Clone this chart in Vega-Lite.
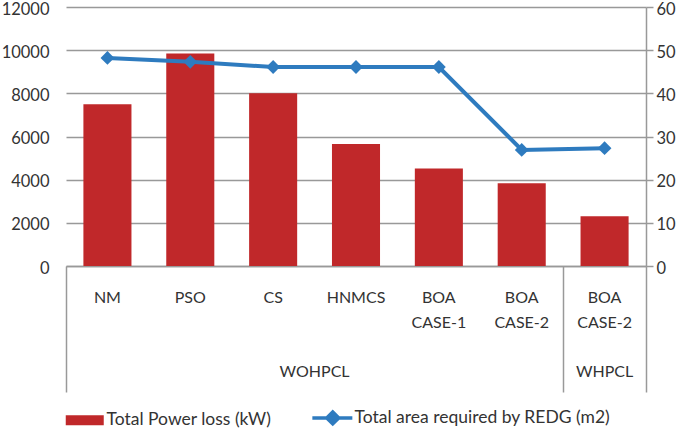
{
  "$schema": "https://vega.github.io/schema/vega-lite/v6.json",
  "width": 580,
  "height": 259,
  "autosize": "none",
  "padding": {"left": 66, "top": 7, "right": 39, "bottom": 166},
  "background": "white",
  "config": {"view": {"stroke": null}, "font": "Lato"},
  "data": {
    "values": [
      {"case": "WOHPCL|NM", "loss": 7500, "area": 48.2},
      {"case": "WOHPCL|PSO", "loss": 9850, "area": 47.3},
      {"case": "WOHPCL|CS", "loss": 8000, "area": 46.1},
      {"case": "WOHPCL|HNMCS", "loss": 5650, "area": 46.1},
      {"case": "WOHPCL|BOA CASE-1", "loss": 4520, "area": 46.1},
      {"case": "WOHPCL|BOA CASE-2", "loss": 3830, "area": 26.9},
      {"case": "WHPCL|BOA CASE-2", "loss": 2300, "area": 27.3}
    ]
  },
  "resolve": {"scale": {"y": "independent"}, "axis": {"x": "independent"}},
  "layer": [
    {
      "mark": {"type": "bar", "width": {"band": 0.58}, "color": "#C0282A"},
      "encoding": {
        "x": {
          "field": "case", "type": "nominal", "sort": null,
          "scale": {"paddingInner": 0, "paddingOuter": 0},
          "axis": {
            "title": null, "orient": "bottom", "bandPosition": 0, "labelAngle": 0,
            "labelExpr": "split(split(datum.value, '|')[1], ' ')",
            "labelFont": "Lato", "labelFontSize": 16, "labelColor": "#333",
            "labelLineHeight": 25, "labelPadding": -103, "labelOverlap": false,
            "ticks": true, "tickSize": 126, "tickColor": "#999", "tickWidth": 1.5,
            "tickOpacity": {"condition": {"test": "datum.value == 'WOHPCL|NM' || datum.value == 'WHPCL|BOA CASE-2'", "value": 1}, "value": 0},
            "domain": true, "domainColor": "#999", "domainWidth": 1.5,
            "grid": false
          }
        },
        "y": {
          "field": "loss", "type": "quantitative",
          "scale": {"domain": [0, 12000]},
          "axis": {
            "title": null, "orient": "left", "values": [0, 2000, 4000, 6000, 8000, 10000, 12000],
            "format": "d", "grid": true, "gridColor": "#999", "gridWidth": 1.5,
            "domain": false, "ticks": false, "labelPadding": 17, "labelOffset": 2,
            "labelFont": "Lato", "labelFontSize": 16.5, "labelColor": "#333"
          }
        },
        "color": {
          "datum": "Total Power loss (kW)",
          "scale": {"domain": ["Total Power loss (kW)", "Total area required by REDG (m2)"], "range": ["#C0282A", "#2E7BBF"]},
          "legend": {
            "orient": "none", "legendX": 10, "legendY": 402, "direction": "horizontal", "title": null,
            "symbolSize": 1600, "labelFont": "Lato", "labelFontSize": 17.5, "labelColor": "#333", "labelLimit": 0,
            "columnPadding": 33, "labelOffset": 13, "padding": 0,
            "encode": {"symbols": {"update": {
              "shape": {"signal": "datum.value == 'Total Power loss (kW)' ? 'M-0.95,-0.25H0.95V0.25H-0.95Z' : 'M-1.02,0H0.98M0,-0.3L0.3,0L0,0.3L-0.3,0Z'"},
              "fill": {"signal": "datum.value == 'Total Power loss (kW)' ? '#C0282A' : '#2E7BBF'"},
              "stroke": {"signal": "datum.value == 'Total Power loss (kW)' ? '#C0282A' : '#2E7BBF'"},
              "strokeWidth": {"signal": "datum.value == 'Total Power loss (kW)' ? 0 : 3.5"},
              "opacity": {"value": 1},
              "fillOpacity": {"value": 1}
            }}}
          }
        }
      }
    },
    {
      "mark": {"type": "line", "strokeWidth": 4, "point": {"shape": "diamond", "size": 190, "filled": true, "opacity": 1}},
      "encoding": {
        "x": {
          "field": "case", "type": "nominal", "sort": null,
          "axis": {
            "title": null, "orient": "bottom", "bandPosition": 1, "labelAngle": 0,
            "values": ["WOHPCL|CS", "WHPCL|BOA CASE-2"],
            "labelExpr": "datum.value == 'WHPCL|BOA CASE-2' ? 'WHPCL' : 'WOHPCL'",
            "labelOffset": {"condition": {"test": "datum.value == 'WOHPCL|CS'", "value": 41.43}, "value": 0},
            "labelFont": "Lato", "labelFontSize": 16, "labelColor": "#333",
            "labelPadding": -29, "labelOverlap": false,
            "ticks": true, "tickSize": 126, "tickColor": "#999", "tickWidth": 1.5,
            "tickOpacity": {"condition": {"test": "datum.value == 'WHPCL|BOA CASE-2'", "value": 1}, "value": 0},
            "domain": false, "grid": false
          }
        },
        "y": {
          "field": "area", "type": "quantitative",
          "scale": {"domain": [0, 60]},
          "axis": {
            "title": null, "orient": "right", "values": [0, 10, 20, 30, 40, 50, 60],
            "grid": false, "domain": true, "domainColor": "#999", "domainWidth": 1.5,
            "ticks": true, "tickSize": 7, "tickColor": "#999", "tickWidth": 1.5,
            "labelPadding": 3, "labelOffset": 2, "labelFont": "Lato", "labelFontSize": 16.5, "labelColor": "#333"
          }
        },
        "color": {"datum": "Total area required by REDG (m2)"}
      }
    }
  ]
}
